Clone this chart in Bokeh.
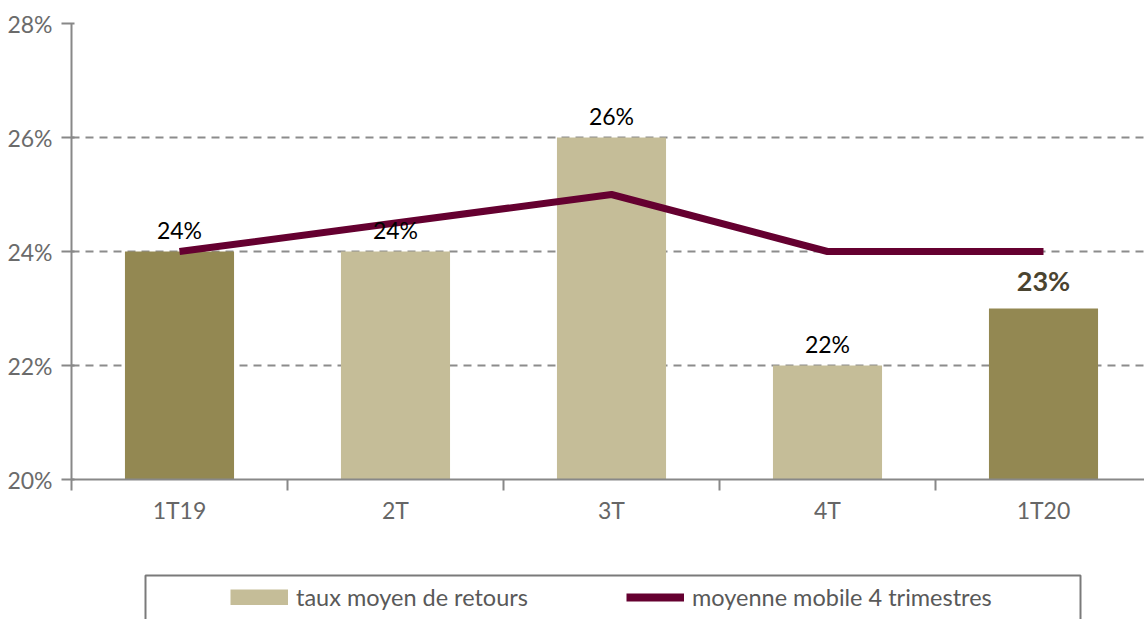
from bokeh.plotting import figure
from bokeh.models import Range1d, FixedTicker, PrintfTickFormatter, Legend, LegendItem
from bokeh.layouts import column
from bokeh.core.properties import value
from bokeh.embed import file_html
from bokeh.resources import INLINE

categories = ["1T19", "2T", "3T", "4T", "1T20"]
return_rate = [24, 24, 26, 22, 23]
moving_avg = [24, 24.5, 25, 24, 24]
y_ticks = [20, 22, 24, 26, 28]
highlight = [True, False, False, False, True]

DARK = "#938852"
LIGHT = "#c5bd98"
LINE = "#650030"
FONT = "Lato"

xs = [i + 0.5 for i in range(len(categories))]
bar_colors = [DARK if h else LIGHT for h in highlight]

W = 1144
LEFT = 71
p = figure(width=W, height=553, x_range=Range1d(0, (W - LEFT) / 216), y_range=Range1d(20, 28),
           output_backend="svg", toolbar_location=None,
           min_border_left=LEFT, min_border_right=0, min_border_top=23, min_border_bottom=74)
p.outline_line_color = None
p.background_fill_color = "white"

bars = p.vbar(x=xs, top=return_rate, bottom=20, width=0.505, fill_color=bar_colors, line_color=None)
avg_line = p.line(x=xs, y=moving_avg, line_color=LINE, line_width=7)

# data labels
last = len(categories) - 1
norm_idx = [i for i in range(len(categories)) if i != last]
p.text(x=[xs[i] for i in norm_idx], y=[return_rate[i] for i in norm_idx],
       text=[f"{return_rate[i]}%" for i in norm_idx],
       text_align="center", text_baseline="bottom", y_offset=-8,
       text_font=value(FONT), text_font_size="23px", text_color="black")
p.text(x=[xs[last]], y=[return_rate[last]], text=[f"{return_rate[last]}%"],
       text_align="center", text_baseline="bottom", y_offset=-12,
       text_font=value(FONT), text_font_size="27px", text_font_style="bold", text_color="#4a4430")

# axes
p.xgrid.grid_line_color = None
p.ygrid.grid_line_color = "#8c8c8c"
p.ygrid.grid_line_width = 2
p.ygrid.grid_line_dash = "8 6"
p.yaxis.ticker = FixedTicker(ticks=y_ticks)
p.yaxis.formatter = PrintfTickFormatter(format="%d%%")
p.yaxis.axis_line_color = "#888888"
p.yaxis.axis_line_width = 2
p.yaxis.major_tick_line_color = "#888888"
p.yaxis.major_tick_line_width = 2
p.yaxis.major_tick_out = 10
p.yaxis.major_tick_in = 3
p.yaxis.minor_tick_line_color = None
p.yaxis.major_label_standoff = 9
p.yaxis.major_label_text_font = FONT
p.yaxis.major_label_text_font_size = "23px"
p.yaxis.major_label_text_color = "#6b6b6b"

p.xaxis.ticker = FixedTicker(ticks=xs, minor_ticks=list(range(len(categories) + 1)))
p.xaxis.major_label_overrides = {x: c for x, c in zip(xs, categories)}
p.xaxis.axis_line_color = "#888888"
p.xaxis.axis_line_width = 2
p.xaxis.major_tick_line_color = None
p.xaxis.major_tick_out = 0
p.xaxis.major_tick_in = 0
p.xaxis.minor_tick_line_color = "#888888"
p.xaxis.minor_tick_line_width = 2
p.xaxis.minor_tick_out = 11
p.xaxis.minor_tick_in = 0
p.xaxis.major_label_standoff = 5
p.xaxis.major_label_text_font = FONT
p.xaxis.major_label_text_font_size = "23px"
p.xaxis.major_label_text_color = "#666666"

# legend figure (its frame is aligned with the main frame: page x 71..1144)
LH = 66
lf = figure(width=W, height=LH, x_range=Range1d(LEFT, W), y_range=Range1d(LH, 0),
            output_backend="svg", toolbar_location=None, x_axis_type=None, y_axis_type=None,
            min_border=0, min_border_left=LEFT, min_border_right=0)
lf.outline_line_color = None
lf.xgrid.grid_line_color = None
lf.ygrid.grid_line_color = None
lf.quad(left=[145], right=[1080], top=[22], bottom=[120], fill_color=None,
        line_color="#7a7a7a", line_width=2)
# legend proxies (drawn outside the visible range)
r_bar = lf.line(x=[-5000, -4999], y=[500, 500], line_color=LIGHT, line_width=16, line_cap="butt")
r_line = lf.line(x=[-5000, -4999], y=[500, 500], line_color=LINE, line_width=8)
legend = Legend(items=[LegendItem(label="taux moyen de retours", renderers=[r_bar]),
                       LegendItem(label="moyenne mobile 4 trimestres", renderers=[r_line])],
                orientation="horizontal", location=(230 - LEFT, 8), padding=0, margin=0,
                spacing=98, glyph_width=58, glyph_height=16, label_standoff=8,
                border_line_color=None, background_fill_alpha=0,
                label_text_font=FONT, label_text_font_size="23.5px", label_text_color="#595959")
lf.add_layout(legend)

layout = column(p, lf, spacing=0)
open("out.html", "w").write(file_html(layout, INLINE))
